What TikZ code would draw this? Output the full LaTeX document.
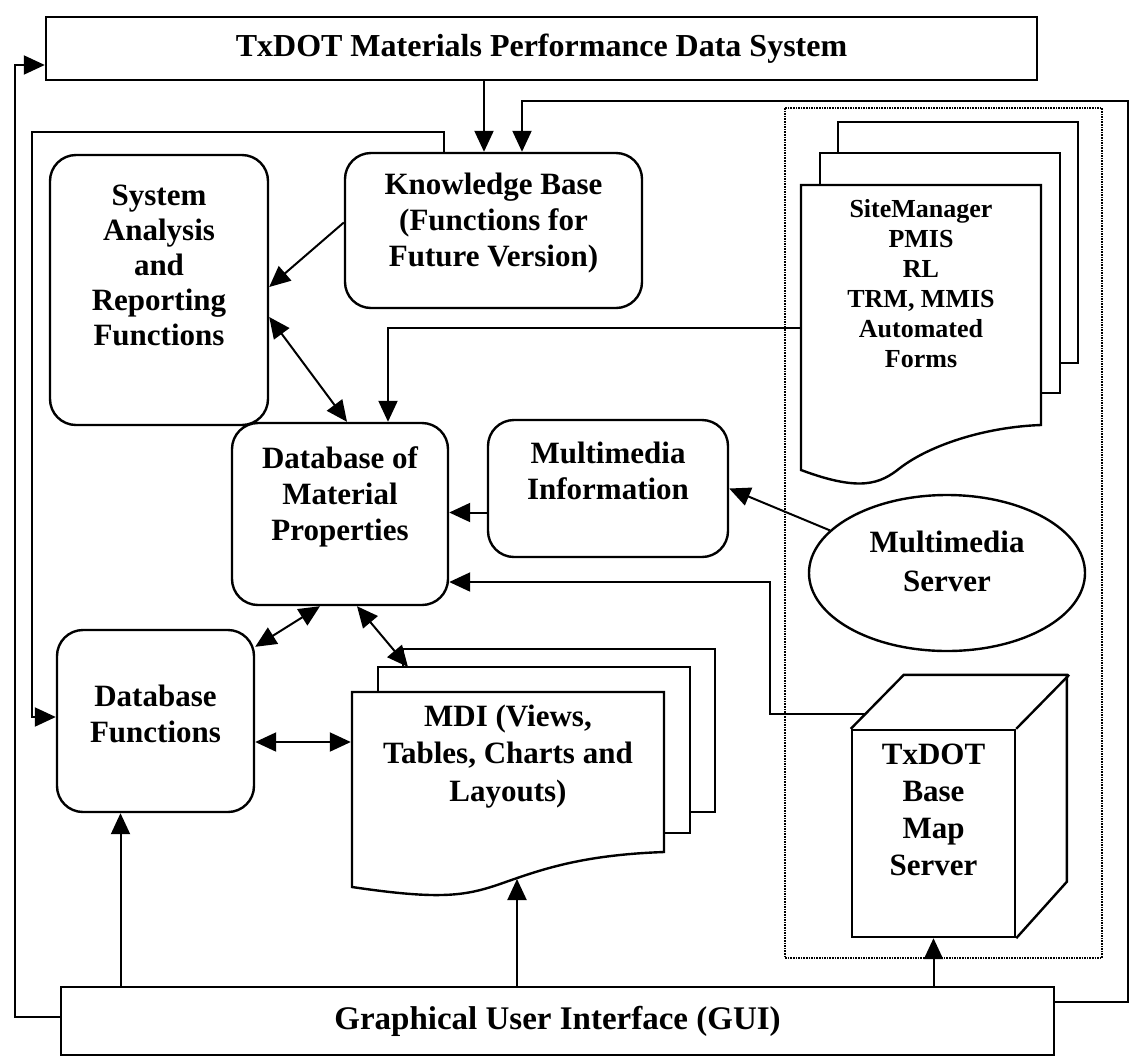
\documentclass[tikz,border=0pt]{standalone}
\usepackage{fontspec}
\setmainfont{Liberation Serif}
\usetikzlibrary{arrows.meta,shapes.geometric}

\begin{document}
\begin{tikzpicture}[x=1pt,y=-1pt,
    box/.style={draw,line width=2.4pt,align=center,inner sep=0pt,
      font=\fontsize{31}{36}\selectfont\bfseries},
    rbox/.style={box,rounded corners=26pt},
    page/.style={draw,line width=2.4pt,fill=white},
    arr/.style={line width=2pt,-{Triangle[length=21pt,width=19pt]}},
    dblarr/.style={line width=2pt,{Triangle[length=21pt,width=19pt]}-{Triangle[length=21pt,width=19pt]}}]
    \useasboundingbox (0,0) rectangle (1137,1061);

    % Dotted frame round the servers
    \draw[densely dotted,line width=1.6pt] (785,108) rectangle (1102,958);

    % Page stacks
    \draw[page] (838,122) rectangle (1078,363);
    \draw[page] (820,153) rectangle (1060,393);
    \draw[page] (801,185) -- (1041,185) -- (1041,425)
        .. controls (985,427) and (930,445) .. (900,468)
        .. controls (880,484) and (860,492) .. (801,470) -- cycle;
    \draw[page] (403,649) rectangle (715,812);
    \draw[page] (378,667) rectangle (690,833);
    \draw[page] (352,692) -- (664,692) -- (664,852)
        .. controls (580,855) and (540,870) .. (500,884)
        .. controls (465,896) and (440,900) .. (352,887) -- cycle;

    % Main boxes
    \node[box,minimum width=991pt,minimum height=63pt,
        font=\fontsize{32}{38}\selectfont\bfseries] (top) at (541.5,48.5)
        {TxDOT Materials Performance Data System};
    \node[rbox,minimum width=297pt,minimum height=155pt,text depth=21pt] (kb) at (493.5,230.5)
        {Knowledge Base\\(Functions for\\Future Version)};
    \node[rbox,minimum width=218pt,minimum height=270pt,text depth=50pt,
        font=\fontsize{31}{35}\selectfont\bfseries] (sys) at (159,290)
        {System\\Analysis\\and\\Reporting\\Functions};
    \node[rbox,minimum width=216pt,minimum height=182pt,text depth=40pt] (db) at (340,514)
        {Database of\\Material\\Properties};
    \node[rbox,minimum width=240pt,minimum height=137pt,text depth=36pt] (mminfo) at (608,488.5)
        {Multimedia\\Information};
    \node[rbox,minimum width=197pt,minimum height=182pt,text depth=14pt] (dbfunc) at (155.5,721)
        {Database\\Functions};
    \node[box,draw=none,minimum width=240pt,minimum height=285pt,text depth=89pt,
        font=\fontsize{26}{30}\selectfont\bfseries] (docs) at (921,327.5)
        {SiteManager\\PMIS\\RL\\TRM, MMIS\\Automated\\Forms};
    \node[box,draw=none,minimum width=312pt,minimum height=195pt,text depth=73pt,
        font=\fontsize{31}{37.5}\selectfont\bfseries] (mdi) at (508,789.5)
        {MDI (Views,\\Tables, Charts and\\Layouts)};
    \node[box,ellipse,minimum width=276pt,minimum height=156pt,text depth=24pt,
        font=\fontsize{31}{39}\selectfont\bfseries] (mms) at (947,573)
        {Multimedia\\Server};
    \node[box,minimum width=163pt,minimum height=207pt,text depth=47pt,
        font=\fontsize{31}{37}\selectfont\bfseries] (basemap) at (933.5,833.5)
        {TxDOT\\Base\\Map\\Server};
    \draw[line width=2.4pt] (basemap.north west) -- ++(53,-54) -- ++(163,0) -- ++(0,207)
        -- (basemap.south east);
    \draw[line width=2.4pt] (basemap.north east) -- ++(53,-54);
    \node[box,minimum width=993pt,minimum height=68pt,
        font=\fontsize{33}{38}\selectfont\bfseries] (gui) at (557.5,1021)
        {Graphical User Interface (GUI)};

    % Helper points
    \coordinate (xa) at (522,0);
    \coordinate (xb) at (444,0);
    \coordinate (xc) at (484,0);
    \coordinate (ro) at (1128,101);
    \coordinate (lo) at (15,65);
    \coordinate (li) at (32,132);
    \coordinate (m1) at ([yshift=-24pt]mminfo.west);
    \coordinate (ck) at ([shift={(14,-15)}]basemap.north west);
    \coordinate (bk) at (770,582);
    \coordinate (f1) at ([yshift=-21pt]dbfunc.east);
    \coordinate (g1) at ([xshift=-35pt]dbfunc.south);
    \coordinate (mtop) at (408,667);
    \coordinate (mwave) at (517,879);

    % Loops round the outside
    \draw[arr] ([yshift=4pt]gui.west) -| (lo) -- (lo -| top.west);
    \draw[arr] ([yshift=19pt]gui.east) -| (ro) -| (kb.north -| xa);
    \draw[arr] (kb.north -| xb) |- (li) |- ([yshift=4pt]dbfunc.west);
    \draw[arr] (top.south -| xc) -- (kb.north -| xc);

    % Links between the boxes
    \draw[arr] ([yshift=8pt]kb.west) -- ([yshift=3pt]sys.east);
    \draw[dblarr] ([yshift=-27pt]sys.east) -- ([xshift=7pt]db.north);
    \draw[arr] (docs.west) -| ([xshift=48pt]db.north);
    \draw[arr] (m1) -- (m1 -| db.east);
    \draw[arr] (mms.160) -- (mminfo.east);
    \draw[arr] (ck) -| (bk) -- (bk -| db.east);
    \draw[dblarr] ([xshift=-20pt]db.south) -- ([yshift=-18pt]dbfunc.north east);
    \draw[dblarr] ([xshift=17pt]db.south) -- (mtop);
    \draw[dblarr] (f1) -- (f1 -| mdi.west);

    % From the GUI
    \draw[arr] (gui.north -| g1) -- (g1);
    \draw[arr] (gui.north -| mwave) -- (mwave);
    \draw[arr] (gui.north -| basemap.south) -- (basemap.south);
\end{tikzpicture}
\end{document}
